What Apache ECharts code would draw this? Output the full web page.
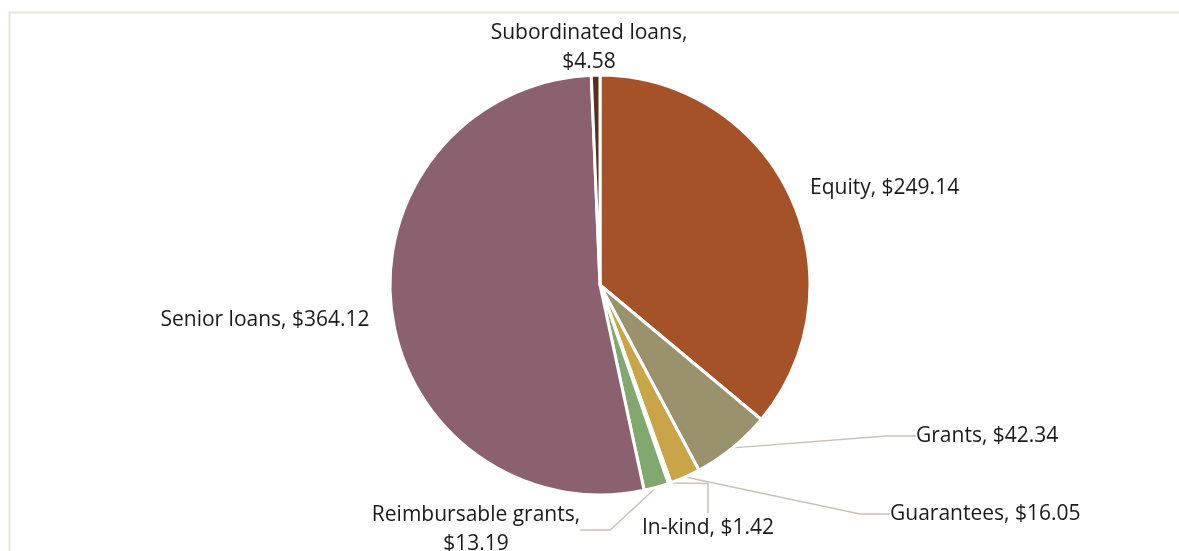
<!DOCTYPE html>
<html>
<head>
<meta charset="utf-8">
<script src="https://cdn.jsdelivr.net/npm/echarts@6/dist/echarts.min.js"></script>
<style>
  html, body { margin: 0; padding: 0; background: #fff; }
  #chart { width: 1179px; height: 551px; }
</style>
</head>
<body>
<div id="chart"></div>
<script>
// Funding by instrument ($ millions)
const categories = ['Equity', 'Grants', 'Guarantees', 'In-kind', 'Reimbursable grants', 'Senior loans', 'Subordinated loans'];
const amounts = [249.14, 42.34, 16.05, 1.42, 13.19, 364.12, 4.58];
const sliceColors = ['#A65229', '#9A926D', '#C9A448', '#D9D3C7', '#82A76F', '#8B6170', '#5B2D1C'];

// Labels whose text wraps after the comma
const wrapped = { 'Subordinated loans': true, 'Reimbursable grants': true };
// Whether a slice's label is joined to it by a leader line
const withLeader = { 'Grants': true, 'Guarantees': true, 'In-kind': true, 'Reimbursable grants': true };

// Label placement (x, y, alignment) per category
const labelPlace = {
  'Equity':              { x: 810, y: 188, align: 'left',   verticalAlign: 'middle' },
  'Grants':              { x: 916, y: 436, align: 'left',   verticalAlign: 'middle' },
  'Guarantees':          { x: 890, y: 514, align: 'left',   verticalAlign: 'middle' },
  'In-kind':             { x: 708, y: 528, align: 'center', verticalAlign: 'middle' },
  'Reimbursable grants': { x: 476, y: 530, align: 'center', verticalAlign: 'middle' },
  'Senior loans':        { x: 265, y: 320, align: 'center', verticalAlign: 'middle' },
  'Subordinated loans':  { x: 589, y: 48,  align: 'center', verticalAlign: 'middle' }
};

const seriesData = categories.map((name, i) => ({
  name: name,
  value: amounts[i],
  itemStyle: { color: sliceColors[i] },
  labelLine: { show: !!withLeader[name] }
}));

const chart = echarts.init(document.getElementById('chart'), null, { renderer: 'canvas' });

chart.setOption({
  animation: false,
  backgroundColor: '#ffffff',
  graphic: [{
    type: 'rect',
    silent: true,
    shape: { x: 9.5, y: 12.5, width: 1200, height: 560 },
    style: { fill: 'none', stroke: '#E7E4DD', lineWidth: 2 }
  }],
  series: [{
    type: 'pie',
    center: [600, 285],
    radius: 210,
    startAngle: 90,
    clockwise: true,
    minAngle: 0,
    avoidLabelOverlap: false,
    itemStyle: { borderColor: '#ffffff', borderWidth: 3 },
    label: {
      show: true,
      position: 'outside',
      color: '#1a1a1a',
      fontFamily: 'Open Sans',
      fontSize: 21,
      lineHeight: 29,
      formatter: p => p.name + ',' + (wrapped[p.name] ? '\n' : ' ') + '$' + p.value.toFixed(2)
    },
    labelLine: {
      show: true,
      lineStyle: { color: '#C8C3B9', width: 1.5 }
    },
    labelLayout: params => {
      const name = categories[params.dataIndex];
      return Object.assign({}, labelPlace[name]);
    },
    data: seriesData
  }]
});
</script>
</body>
</html>
